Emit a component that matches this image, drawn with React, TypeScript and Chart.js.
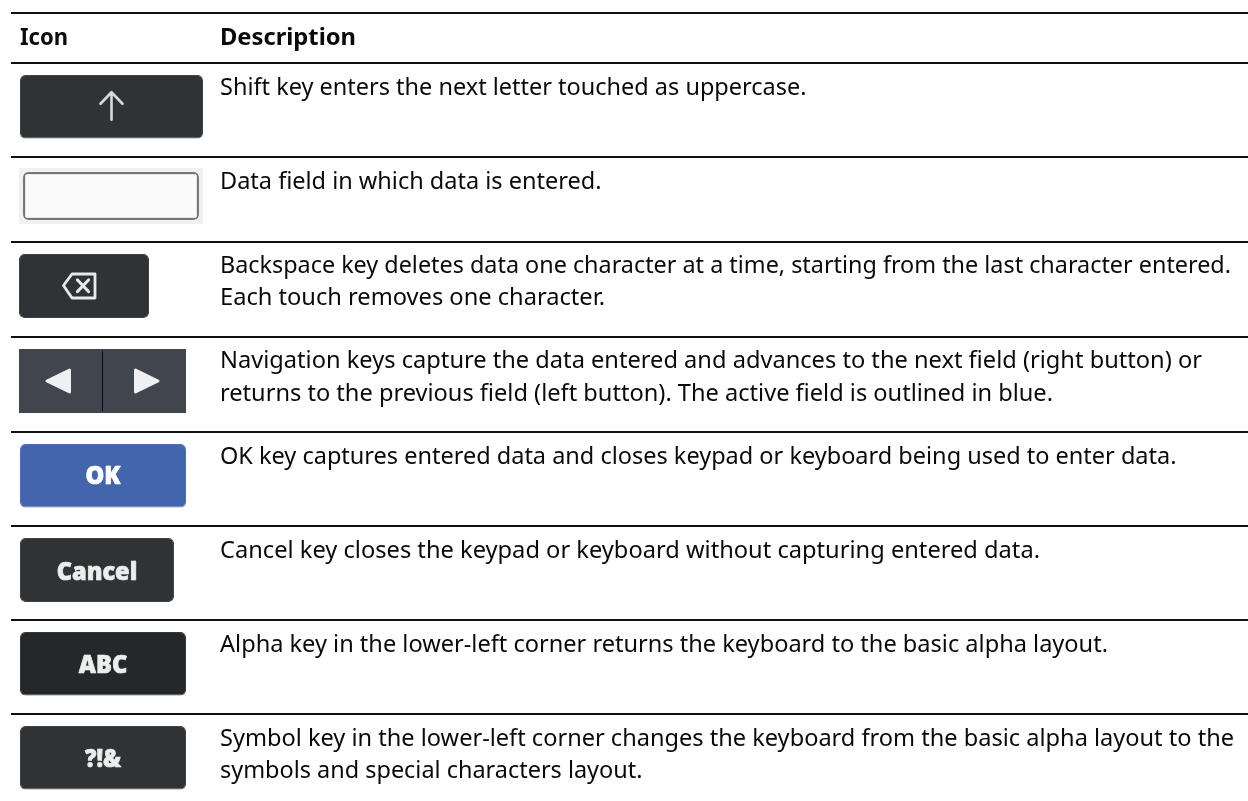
import { useEffect, useRef } from "react";
import { Chart, registerables } from "chart.js";

Chart.register(...registerables);

// ---- table content ----
const headers = ["Icon", "Description"];
const descriptionLines = [
  ["Shift key enters the next letter touched as uppercase."],
  ["Data field in which data is entered."],
  [
    "Backspace key deletes data one character at a time, starting from the last character entered.",
    "Each touch removes one character.",
  ],
  [
    "Navigation keys capture the data entered and advances to the next field (right button) or",
    "returns to the previous field (left button). The active field is outlined in blue.",
  ],
  ["OK key captures entered data and closes keypad or keyboard being used to enter data."],
  ["Cancel key closes the keypad or keyboard without capturing entered data."],
  ["Alpha key in the lower-left corner returns the keyboard to the basic alpha layout."],
  [
    "Symbol key in the lower-left corner changes the keyboard from the basic alpha layout to the",
    "symbols and special characters layout.",
  ],
];
const keyLabels = ["", "", "", "", "OK", "Cancel", "ABC", "?!&"];

// ---- values, in axis units ----
const ruleValues = [13, 62.5, 156.5, 241.5, 337, 431.5, 525.5, 619.5, 714];
const keyStart = [20, 23, 19, 19, 20, 20, 20, 20];
const keyEnd = [203, 199, 149, 186, 186, 174, 186, 186];
const keyTop = [75, 172, 254, 349, 444, 538, 632, 726];
const keyBottom = [138.5, 220, 318, 413, 507.5, 602, 695.5, 789.5];
const keyColors = ["#303336", "#fafafa", "#303336", "#41454e", "#4265ae", "#303336", "#25282b", "#303336"];
const keyEdges = ["#414447", "#7c7c7c", "#414447", "#41454e", "#4f70b5", "#414447", "#383b3e", "#414447"];
const keyEdgeWidths = [1, 2, 1, 0, 1, 1, 1, 1];
const keyRadii = [5, 5, 5, 0, 5, 5, 5, 5];
const fieldBackdrop = { start: 19, end: 203, top: 168, bottom: 224 };

const lineBaselines = [
  [95],
  [189],
  [273, 305],
  [368, 400.5],
  [463.5],
  [557.5],
  [651.5],
  [746, 778],
];
const lineEnds = [[806.5], [601.5], [1231, 605], [1202, 1053], [1176.5], [1040], [1108], [1234, 642.5]];
const keyLabelWidths = [0, 0, 0, 0, 35, 80.5, 48.5, 36];
const keyLabelBaselines = [0, 0, 0, 0, 484, 580, 673, 767];

const TEXT_FONT = '"Noto Sans", sans-serif';

function fitText(ctx: CanvasRenderingContext2D, text: string, x: number, y: number, width: number, thicken = 0) {
  const natural = ctx.measureText(text).width;
  ctx.save();
  ctx.translate(x, y);
  ctx.scale(width / natural, 1);
  ctx.fillText(text, 0, 0);
  if (thicken > 0) {
    ctx.lineWidth = thicken;
    ctx.strokeStyle = ctx.fillStyle as string;
    ctx.strokeText(text, 0, 0);
  }
  ctx.restore();
}

const backdropPlugin = {
  id: "fieldBackdrop",
  beforeDatasetsDraw(chart: any) {
    const { ctx, scales } = chart;
    const px = scales.x.getPixelForValue(fieldBackdrop.start);
    const pe = scales.x.getPixelForValue(fieldBackdrop.end);
    const py = scales.y.getPixelForValue(fieldBackdrop.top);
    const pb = scales.y.getPixelForValue(fieldBackdrop.bottom);
    ctx.save();
    ctx.fillStyle = "#f0f0f0";
    ctx.fillRect(px, py, pe - px, pb - py);
    ctx.restore();
  },
};

const tablePlugin = {
  id: "tableText",
  afterDatasetsDraw(chart: any) {
    const { ctx, scales } = chart;
    const X = (v: number) => scales.x.getPixelForValue(v);
    const Y = (v: number) => scales.y.getPixelForValue(v);
    ctx.save();
    ctx.textBaseline = "alphabetic";
    ctx.textAlign = "left";

    ctx.fillStyle = "#0a0a0a";
    ctx.font = `700 23.5px ${TEXT_FONT}`;
    fitText(ctx, headers[0], X(20), Y(45), 48);
    fitText(ctx, headers[1], X(220), Y(45), 136);

    ctx.font = `400 23.5px ${TEXT_FONT}`;
    descriptionLines.forEach((lines, r) => {
      lines.forEach((line, i) => {
        fitText(ctx, line, X(220), Y(lineBaselines[r][i]), lineEnds[r][i] - 220);
      });
    });

    // key faces: glyphs and labels placed from each bar's own centre
    const centre = (i: number) => {
      const el = chart.getDatasetMeta(i).data[0];
      return { x: (el.base + el.x) / 2, y: el.y };
    };

    ctx.lineCap = "round";
    ctx.lineJoin = "round";

    // soft inner shade of the data field
    let c = centre(1);
    ctx.strokeStyle = "rgba(0,0,0,0.07)";
    ctx.lineWidth = 2;
    ctx.beginPath();
    ctx.roundRect(c.x - 86, c.y - 22, 172, 44, 3);
    ctx.stroke();

    // shift arrow
    c = centre(0);
    ctx.strokeStyle = "#d8d9dc";
    ctx.lineWidth = 2.6;
    ctx.beginPath();
    ctx.moveTo(c.x, c.y + 13);
    ctx.lineTo(c.x, c.y - 14);
    ctx.moveTo(c.x - 11, c.y - 3);
    ctx.lineTo(c.x, c.y - 14.5);
    ctx.lineTo(c.x + 11, c.y - 3);
    ctx.stroke();

    // backspace
    c = centre(2);
    ctx.strokeStyle = "#e8e9ea";
    ctx.lineWidth = 2.8;
    ctx.beginPath();
    ctx.moveTo(c.x - 20.5, c.y - 0.5);
    ctx.lineTo(c.x - 12, c.y - 12);
    ctx.lineTo(c.x + 11, c.y - 12);
    ctx.lineTo(c.x + 11, c.y + 12);
    ctx.lineTo(c.x - 12, c.y + 12);
    ctx.closePath();
    ctx.stroke();
    ctx.lineWidth = 3.2;
    ctx.beginPath();
    ctx.moveTo(c.x - 6.5, c.y - 6);
    ctx.lineTo(c.x + 4.5, c.y + 5.5);
    ctx.moveTo(c.x + 4.5, c.y - 6);
    ctx.lineTo(c.x - 6.5, c.y + 5.5);
    ctx.stroke();

    // navigation arrows and divider
    c = centre(3);
    ctx.strokeStyle = "#0b0b0d";
    ctx.lineWidth = 1;
    ctx.lineCap = "butt";
    ctx.beginPath();
    ctx.moveTo(Math.round(c.x) - 0.5, c.y - 30);
    ctx.lineTo(Math.round(c.x) - 0.5, c.y + 30);
    ctx.stroke();
    ctx.fillStyle = "#eff0f3";
    ctx.strokeStyle = "#eff0f3";
    ctx.lineWidth = 3;
    [-1, 1].forEach((side) => {
      ctx.beginPath();
      ctx.moveTo(c.x + side * 55.5, c.y);
      ctx.lineTo(c.x + side * 33, c.y - 11);
      ctx.lineTo(c.x + side * 33, c.y + 11);
      ctx.closePath();
      ctx.fill();
      ctx.stroke();
    });

    // text keys
    ctx.font = `800 24px "Open Sans", sans-serif`;
    keyLabels.forEach((label, i) => {
      if (!label) return;
      const k = centre(i);
      ctx.fillStyle = i === 4 ? "#ffffff" : "#eceded";
      fitText(ctx, label, k.x - keyLabelWidths[i] / 2, Y(keyLabelBaselines[i]), keyLabelWidths[i], 0.7);
    });
    ctx.restore();
  },
};

export default function App() {
  const ref = useRef<HTMLCanvasElement>(null);
  useEffect(() => {
    document.body.style.margin = "0";
    const chart = new Chart(ref.current!, {
      type: "bar",
      data: {
        datasets: keyStart.map((start, i) => ({
          label: `key ${i + 1}`,
          data: [{ x: [start, keyEnd[i]], y: (keyTop[i] + keyBottom[i]) / 2 }],
          barThickness: keyBottom[i] - keyTop[i],
          backgroundColor: keyColors[i],
          borderColor: keyEdges[i],
          borderWidth: keyEdgeWidths[i],
          borderRadius: keyRadii[i],
          borderSkipped: false,
          inflateAmount: 0,
          grouped: false,
        })) as any,
      },
      plugins: [backdropPlugin, tablePlugin],
      options: {
        indexAxis: "y",
        animation: false,
        responsive: false,
        layout: { padding: { left: 11, right: 0, top: 0, bottom: 0 } },
        plugins: { legend: { display: false }, tooltip: { enabled: false }, title: { display: false } },
        scales: {
          x: {
            type: "linear",
            min: 11,
            max: 1248,
            display: false,
            grid: { display: false },
          },
          y: {
            type: "linear",
            reverse: true,
            offset: false,
            min: 0,
            max: 801,
            border: { display: false },
            ticks: { display: false, autoSkip: false },
            afterBuildTicks: (scale: any) => {
              scale.ticks = ruleValues.map((value) => ({ value }));
            },
            afterFit: (scale: any) => {
              scale.width = 0;
            },
            grid: {
              color: "#111111",
              lineWidth: 2,
              drawTicks: false,
              offset: false,
            },
          },
        },
      } as any,
    });
    return () => chart.destroy();
  }, []);
  return <canvas ref={ref} width={1248} height={801} style={{ display: "block", background: "#ffffff" }} />;
}
